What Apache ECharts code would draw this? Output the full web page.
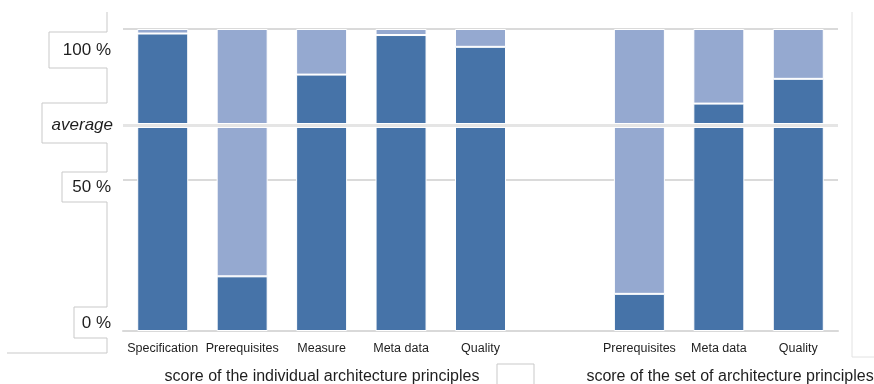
<!DOCTYPE html>
<html>
<head>
<meta charset="utf-8">
<script src="https://cdn.jsdelivr.net/npm/echarts@6/dist/echarts.min.js"></script>
<style>
  html, body { margin: 0; padding: 0; background: #fff; }
  #chart { width: 874px; height: 384px; }
</style>
</head>
<body>
<div id="chart"></div>
<script>
// Principle categories; the blank slot separates the two groups
const categories = ['Specification', 'Prerequisites', 'Measure', 'Meta data', 'Quality', '', 'Prerequisites', 'Meta data', 'Quality'];
// Achieved share of each principle (%)
const achieved = [98.5, 18.1, 84.9, 98.0, 94.1, '-', 12.3, 75.3, 83.5];
// Remaining share up to 100 % (%)
const remaining = [1.5, 81.9, 15.1, 2.0, 5.9, '-', 87.7, 24.7, 16.5];
// Average score across all principles (%)
const averageValue = 68;
const yTicks = [0, 50, 100];
const groupTitles = ['score of the individual architecture principles', 'score of the set of architecture principles'];

const FONT = '"Liberation Sans", Arial, sans-serif';
const TEXT = '#1e1e1e';
const FRAME = '#c9c9c9';

const chart = echarts.init(document.getElementById('chart'), null, { renderer: 'canvas' });

chart.setOption({
  animation: false,
  backgroundColor: '#ffffff',
  grid: { left: 123, right: 36, top: 29, bottom: 53, containLabel: false },
  title: [
    { text: groupTitles[0], left: 317, top: 364, textAlign: 'center',
      textStyle: { fontFamily: FONT, fontSize: 16, fontWeight: 'normal', color: TEXT } },
    { text: groupTitles[1], left: 725, top: 364, textAlign: 'center',
      textStyle: { fontFamily: FONT, fontSize: 16, fontWeight: 'normal', color: TEXT } }
  ],
  xAxis: {
    type: 'category',
    data: categories,
    axisTick: { show: false },
    axisLine: { show: true, lineStyle: { color: '#d9d9d9', width: 2 } },
    axisLabel: { interval: 0, margin: 11, fontFamily: FONT, fontSize: 12.5, color: TEXT }
  },
  yAxis: {
    type: 'value',
    min: yTicks[0],
    max: yTicks[yTicks.length - 1],
    interval: 50,
    axisLine: { show: false },
    axisTick: { show: false },
    splitLine: { show: true, lineStyle: { color: '#dadada', width: 2 } },
    axisLabel: {
      margin: 12,
      formatter: function (v) {
        if (v === 100) return '{hi|' + v + ' %}';
        if (v === 50) return '{mid|' + v + ' %}';
        return '{lo|' + v + ' %}';
      },
      rich: {
        hi: { fontFamily: FONT, fontSize: 17, color: TEXT, padding: [42, 0, 0, 0] },
        mid: { fontFamily: FONT, fontSize: 17, color: TEXT, padding: [15, 0, 0, 0] },
        lo: { fontFamily: FONT, fontSize: 17, color: TEXT, padding: [0, 0, 16, 0] }
      }
    }
  },
  series: [
    {
      name: 'achieved',
      type: 'bar',
      stack: 'score',
      barWidth: 51,
      data: achieved,
      itemStyle: { color: '#4673a8', borderColor: '#ffffff', borderWidth: 1 },
      markLine: {
        silent: true,
        symbol: 'none',
        z: 10,
        label: {
          show: true,
          position: 'start',
          distance: 10,
          formatter: 'average',
          fontFamily: FONT,
          fontSize: 17,
          fontStyle: 'italic',
          color: TEXT
        },
        data: [
          { yAxis: averageValue, lineStyle: { color: '#ffffff', width: 5, type: 'solid' } },
          { yAxis: averageValue, label: { show: false }, lineStyle: { color: '#e5e5e5', width: 3, type: 'solid' } }
        ]
      }
    },
    {
      name: 'remaining',
      type: 'bar',
      stack: 'score',
      barWidth: 51,
      data: remaining,
      itemStyle: { color: '#95a9d0', borderColor: '#ffffff', borderWidth: 1 }
    }
  ],
  graphic: [
    {
      type: 'polyline',
      silent: true,
      shape: { points: [[107, 12], [107, 32], [49, 32], [49, 68], [107, 68], [107, 103], [42, 103], [42, 143], [107, 143], [107, 172], [62, 172], [62, 202], [107, 202], [107, 307], [74, 307], [74, 338], [107, 338], [107, 353], [7, 353]] },
      style: { stroke: FRAME, lineWidth: 1, fill: null }
    },
    {
      type: 'polyline',
      silent: true,
      shape: { points: [[852, 12], [852, 357], [874, 357]] },
      style: { stroke: '#e2e2e2', lineWidth: 1, fill: null }
    },
    {
      type: 'polyline',
      silent: true,
      shape: { points: [[497, 390], [497, 364], [534, 364], [534, 390]] },
      style: { stroke: FRAME, lineWidth: 1, fill: null }
    }
  ]
});
</script>
</body>
</html>
